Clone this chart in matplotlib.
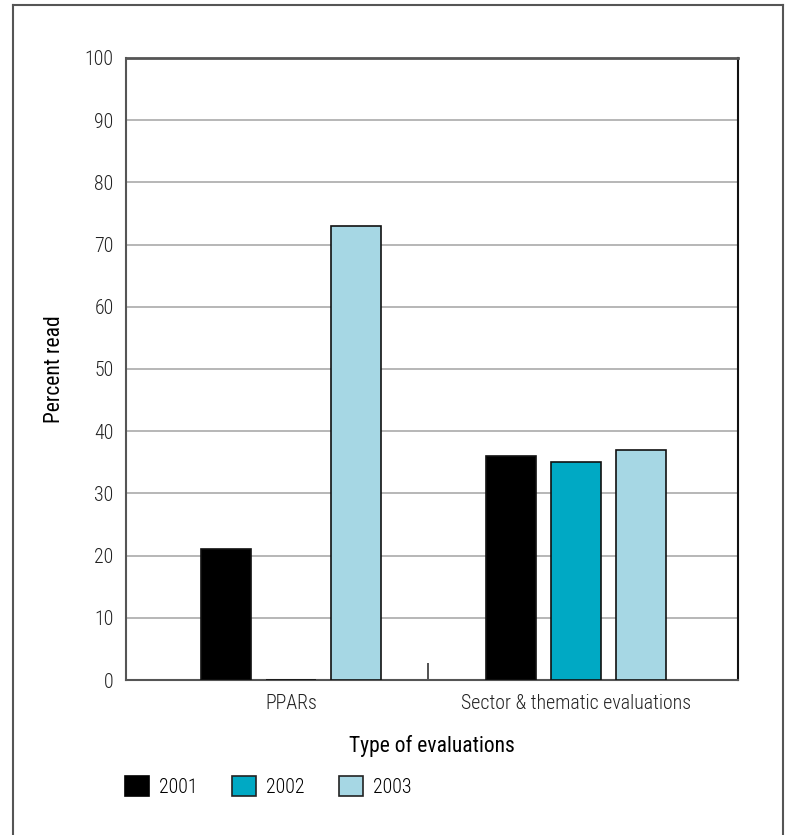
import numpy as np
import matplotlib
matplotlib.use("Agg")
import matplotlib.pyplot as plt
from matplotlib.lines import Line2D
from matplotlib.patches import Patch

plt.rcParams['font.family'] = ['Roboto Condensed', 'Liberation Sans Narrow',
                               'Roboto', 'DejaVu Sans']

# =========================
# DATA
# =========================

categories = ["PPARs", "Sector & thematic evaluations"]
years = ["2001", "2002", "2003"]
values_2001 = [21, 36]
values_2002 = [0, 35]
values_2003 = [73, 37]
colors = ["#000000", "#00A9C4", "#A6D7E4"]

series = [values_2001, values_2002, values_2003]

# =========================
# FIGURE
# =========================

fig = plt.figure(figsize=(7.88, 8.35), dpi=100)
ax = fig.add_axes([0.160, 0.1856, 0.7766, 0.745])

x = np.arange(len(categories))
width = 0.175
offset = 0.228

for i, (vals, col) in enumerate(zip(series, colors)):
    ax.bar(x + (i - 1) * offset, vals, width=width, color=col,
           edgecolor="#111111", linewidth=1.2, zorder=3)

ax.set_xlim(-0.579, 1.568)
ax.set_ylim(0, 100)
ax.set_yticks(range(0, 101, 10))
ax.tick_params(axis="y", length=0, pad=9)
ax.yaxis.grid(True, color="#aaaaaa", linewidth=1.2, zorder=0)

ax.set_xticks(x)
ax.set_xticklabels(categories)
ax.tick_params(axis="x", length=0, pad=10)
ax.set_xticks([0.48], minor=True)
ax.tick_params(axis="x", which="minor", direction="in", length=12,
               width=1.2, color="#333333")

for lbl in ax.get_xticklabels() + ax.get_yticklabels():
    lbl.set_fontsize(14.3)
    lbl.set_fontweight("light")
    lbl.set_color("#222222")

for side in ["left", "bottom"]:
    ax.spines[side].set_color("#555555")
    ax.spines[side].set_linewidth(1.5)
ax.spines["top"].set_color("#555555")
ax.spines["top"].set_linewidth(2)
ax.spines["right"].set_color("#111111")
ax.spines["right"].set_linewidth(1.5)

ax.set_ylabel("Percent read", fontsize=15.5, labelpad=14)
ax.set_xlabel("Type of evaluations", fontsize=15.5, labelpad=16)

# =========================
# LEGEND
# =========================

handles = [Patch(facecolor=c, edgecolor="#222222" if i else c, linewidth=1.2)
           for i, c in enumerate(colors)]
leg = fig.legend(handles, years, loc="upper left", bbox_to_anchor=(0.136, 0.092),
                 ncol=3, frameon=False, fontsize=14.3, handlelength=1.2,
                 handleheight=1.2, handletextpad=0.5, columnspacing=1.75)
for t in leg.get_texts():
    t.set_fontweight("light")

# =========================
# OUTER FRAME
# =========================

frame_kw = dict(color="#555555", linewidth=1.5, transform=fig.transFigure)
fig.add_artist(Line2D([0.0165, 0.0165], [0.0, 0.994], **frame_kw))
fig.add_artist(Line2D([0.0165, 0.9935], [0.994, 0.994], **frame_kw))
fig.add_artist(Line2D([0.9935, 0.9935], [0.0, 0.994], **frame_kw))

fig.savefig("out.png", dpi=100)
